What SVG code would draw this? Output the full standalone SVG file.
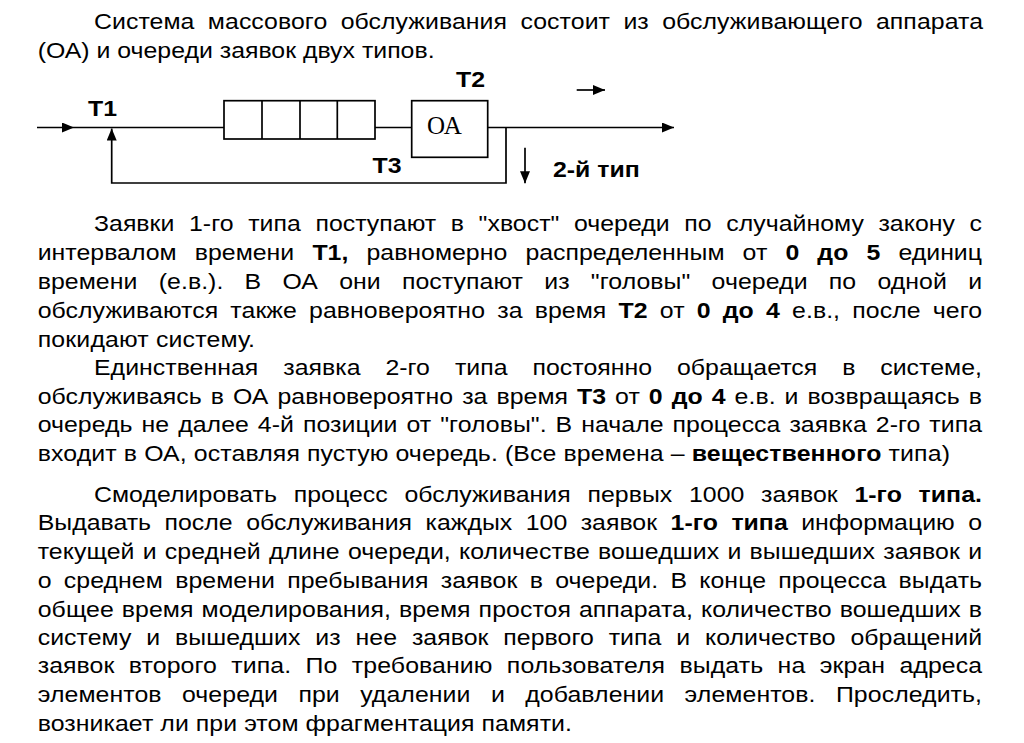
<svg xmlns="http://www.w3.org/2000/svg" width="1024" height="743" viewBox="0 0 1024 743">
<style>
  .t { font-family: "Liberation Sans", Arial, sans-serif; font-size: 22px; fill: #000; }
  .b { font-weight: bold; }
  .lbl { font-family: "Liberation Sans", Arial, sans-serif; font-size: 22px; font-weight: bold; fill: #000; }
  .oa { font-family: "Liberation Serif", "Times New Roman", serif; font-size: 25px; fill: #000; }
  .box { fill: #fff; stroke: #000; stroke-width: 1.7; }
  .ln { fill: none; stroke: #000; stroke-width: 1.7; }
</style>
<defs>
  <marker id="ah" markerUnits="userSpaceOnUse" markerWidth="12" markerHeight="10" refX="12" refY="5" orient="auto" viewBox="0 0 12 10">
    <path d="M0,0 L12,5 L0,10 z" fill="#000"/>
  </marker>
</defs>
<rect width="1024" height="743" fill="#fff"/>

<g id="body" class="t" transform="scale(1.13 1)">
  <text x="83.19" y="29.3" word-spacing="5.7" textLength="786.7" lengthAdjust="spacing">Система массового обслуживания состоит из обслуживающего аппарата</text>
  <text x="33.36" y="58.3">(ОА) и очереди заявок двух типов.</text>

  <text x="83.19" y="231" word-spacing="6.8" textLength="785.8" lengthAdjust="spacing">Заявки 1-го типа поступают в "хвост" очереди по случайному закону с</text>
  <text x="33.36" y="260" word-spacing="9.9" textLength="835.7" lengthAdjust="spacing">интервалом времени <tspan class="b">Т1,</tspan> равномерно распределенным от <tspan class="b">0 до 5</tspan> единиц</text>
  <text x="33.36" y="289" word-spacing="12.6" textLength="835.7" lengthAdjust="spacing">времени (е.в.). В ОА они поступают из "головы" очереди по одной и</text>
  <text x="33.36" y="318" word-spacing="4.6" textLength="835.7" lengthAdjust="spacing">обслуживаются также равновероятно за время <tspan class="b">Т2</tspan> от <tspan class="b">0 до 4</tspan> е.в., после чего</text>
  <text x="33.36" y="347" textLength="192.3" lengthAdjust="spacing">покидают систему.</text>

  <text x="83.19" y="375.5" word-spacing="15.9" textLength="785.8" lengthAdjust="spacing">Единственная заявка 2-го типа постоянно обращается в системе,</text>
  <text x="33.36" y="404" word-spacing="1.8" textLength="835.7" lengthAdjust="spacing">обслуживаясь в ОА равновероятно за время <tspan class="b">Т3</tspan> от <tspan class="b">0 до 4</tspan> е.в. и возвращаясь в</text>
  <text x="33.36" y="432.5" word-spacing="1.8" textLength="835.7" lengthAdjust="spacing">очередь не далее 4-й позиции от "головы". В начале процесса заявка 2-го типа</text>
  <text x="33.36" y="461" textLength="807.3" lengthAdjust="spacing">входит в ОА, оставляя пустую очередь. (Все времена – <tspan class="b">вещественного</tspan> типа)</text>

  <text x="83.19" y="501.7" word-spacing="8.6" textLength="785.8" lengthAdjust="spacing">Смоделировать процесс обслуживания первых 1000 заявок <tspan class="b">1-го типа.</tspan></text>
  <text x="33.36" y="530.5" word-spacing="5.8" textLength="835.7" lengthAdjust="spacing">Выдавать после обслуживания каждых 100 заявок <tspan class="b">1-го типа</tspan> информацию о</text>
  <text x="33.36" y="559.5" word-spacing="1.1" textLength="835.7" lengthAdjust="spacing">текущей и средней длине очереди, количестве вошедших и вышедших заявок и</text>
  <text x="33.36" y="588" word-spacing="4.7" textLength="835.7" lengthAdjust="spacing">о среднем времени пребывания заявок в очереди. В конце процесса выдать</text>
  <text x="33.36" y="616.7" word-spacing="0.9" textLength="835.7" lengthAdjust="spacing">общее время моделирования, время простоя аппарата, количество вошедших в</text>
  <text x="33.36" y="645" word-spacing="7.0" textLength="835.7" lengthAdjust="spacing">систему и вышедших из нее заявок первого типа и количество обращений</text>
  <text x="33.36" y="673.5" word-spacing="6.6" textLength="835.7" lengthAdjust="spacing">заявок второго типа. По требованию пользователя выдать на экран адреса</text>
  <text x="33.36" y="702" word-spacing="11.8" textLength="835.7" lengthAdjust="spacing">элементов очереди при удалении и добавлении элементов. Проследить,</text>
  <text x="33.36" y="731" textLength="472.8" lengthAdjust="spacing">возникает ли при этом фрагментация памяти.</text>
</g>

<g id="connectors">
  <line class="ln" x1="37" y1="127.5" x2="74" y2="127.5" marker-end="url(#ah)"/>
  <line class="ln" x1="74" y1="127.5" x2="224" y2="127.5"/>
  <line class="ln" x1="375" y1="127.5" x2="411.7" y2="127.5"/>
  <line class="ln" x1="487.7" y1="127.5" x2="674" y2="127.5" marker-end="url(#ah)"/>
  <polyline class="ln" points="506,127.5 506,183 111.7,183 111.7,140"/>
  <line class="ln" x1="111.7" y1="140" x2="111.7" y2="128.5" marker-end="url(#ah)"/>
  <line class="ln" x1="576.7" y1="90" x2="605" y2="90" marker-end="url(#ah)"/>
  <line class="ln" x1="525" y1="147.7" x2="525" y2="183.3" marker-end="url(#ah)"/>
</g>

<g id="queue">
  <rect class="box" x="224" y="100.7" width="151" height="38.3"/>
  <line class="ln" x1="262" y1="100.7" x2="262" y2="139"/>
  <line class="ln" x1="300" y1="100.7" x2="300" y2="139"/>
  <line class="ln" x1="337.3" y1="100.7" x2="337.3" y2="139"/>
</g>

<g id="oa">
  <rect class="box" x="411.7" y="100.7" width="76" height="56.6"/>
  <text class="oa" x="427" y="133.5">ОА</text>
</g>

<g id="labels">
  <text class="lbl" transform="translate(88,116) scale(1.13 1)">T1</text>
  <text class="lbl" transform="translate(456,87) scale(1.13 1)">T2</text>
  <text class="lbl" transform="translate(372.5,172.5) scale(1.13 1)">T3</text>
  <text class="lbl" transform="translate(553,177) scale(1.13 1)">2-й тип</text>
</g>
</svg>
